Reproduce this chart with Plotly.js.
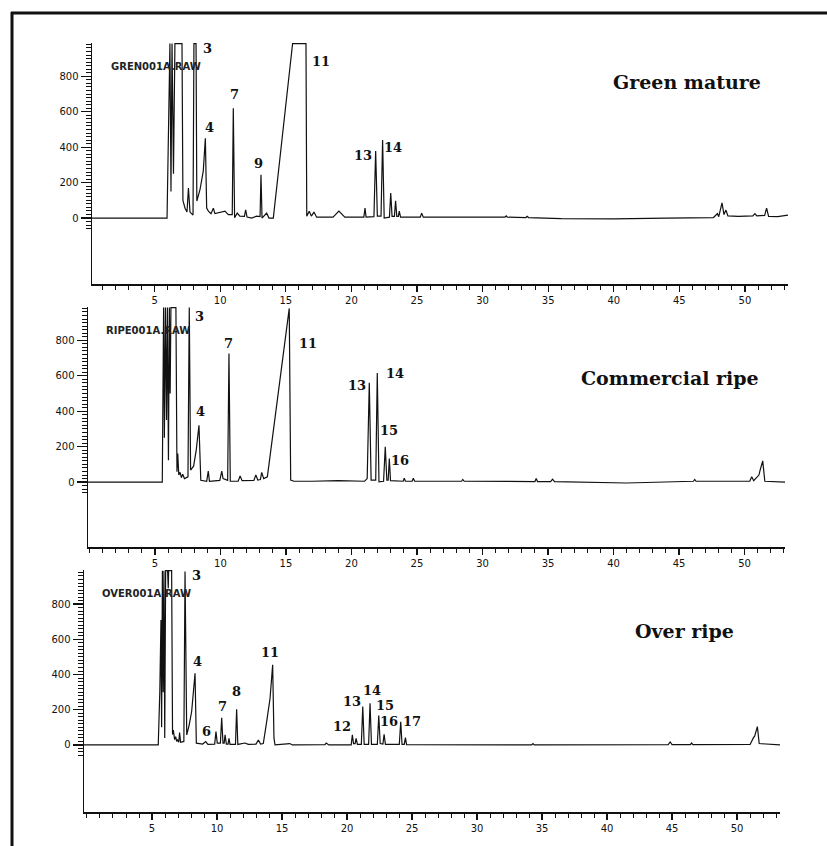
<!DOCTYPE html>
<html>
<head>
<meta charset="utf-8">
<script src="https://cdn.plot.ly/plotly-3.0.1.min.js"></script>
<style>html,body{margin:0;padding:0;background:#fff;}#chart{width:827px;height:846px;}</style>
</head>
<body>
<div id="chart"></div>
<script>
// ---------- DATA (retention time in min, detector response) ----------
const xTickVals = [5, 10, 15, 20, 25, 30, 35, 40, 45, 50];
const xTickText = ["5", "10", "15", "20", "25", "30", "35", "40", "45", "50"];
const yTickVals = [0, 200, 400, 600, 800];
const yTickText = ["0", "200", "400", "600", "800"];

const panelTitles = ["Green mature", "Commercial ripe", "Over ripe"];
const rawFiles = ["GREN001A.RAW", "RIPE001A.RAW", "OVER001A.RAW"];

const greenPts = [[0.23,0],[5.95,0],[6.17,985],[6.25,150],[6.33,985],[6.44,250],[6.55,985],[7.09,985],[7.16,100],[7.32,56],[7.47,34],[7.58,169],[7.70,34],[7.93,17],[8.0,985],[8.16,985],[8.22,96],[8.46,160],[8.71,265],[8.87,450],[8.97,56],[9.1,39],[9.3,25],[9.48,56],[9.6,25],[9.73,28],[10.1,34],[10.37,39],[10.62,19],[10.92,19],[11.0,620],[11.1,2],[11.3,28],[11.5,11],[11.85,10],[11.94,47],[12.05,6],[12.4,0],[12.78,11],[13.04,8],[13.11,245],[13.19,0],[13.54,28],[13.72,0],[14.05,0],[15.52,985],[16.54,985],[16.6,11],[16.79,39],[16.95,11],[17.15,34],[17.35,5],[18.6,5],[19.05,39],[19.5,5],[20.95,5],[21.04,56],[21.12,5],[21.72,8],[21.85,379],[21.98,11],[22.26,11],[22.38,441],[22.5,0],[22.9,5],[23.0,141],[23.1,10],[23.28,10],[23.37,98],[23.46,10],[23.58,10],[23.65,39],[23.75,5],[25.25,5],[25.36,28],[25.48,5],[31.7,5],[31.8,12],[31.9,5],[33.3,3],[33.4,10],[33.5,3],[36,-3],[40,-5],[44,0],[47.6,3],[47.9,25],[48.0,8],[48.25,86],[48.4,20],[48.55,45],[48.7,12],[49.5,10],[50.6,12],[50.76,25],[50.9,12],[51.5,15],[51.65,56],[51.8,10],[52.5,8],[53.28,17]];

const ripePts = [[-0.11,0],[5.56,0],[5.66,985],[5.72,250],[5.80,985],[5.88,350],[5.95,985],[6.03,124],[6.10,985],[6.16,500],[6.22,985],[6.60,985],[6.68,58],[6.74,161],[6.82,40],[6.92,55],[7.02,25],[7.12,45],[7.25,20],[7.52,30],[7.62,985],[7.72,68],[7.95,90],[8.15,180],[8.36,321],[8.5,10],[8.95,5],[9.07,62],[9.16,5],[9.95,10],[10.1,62],[10.2,20],[10.55,10],[10.65,725],[10.75,5],[11.35,5],[11.5,35],[11.65,8],[12.55,10],[12.7,40],[12.85,12],[13.05,15],[13.15,55],[13.3,20],[13.58,30],[15.25,980],[15.36,11],[15.6,5],[17,5],[19,8],[21.0,5],[21.2,20],[21.36,560],[21.5,11],[21.85,11],[21.97,616],[22.1,2],[22.45,5],[22.58,199],[22.7,11],[22.8,11],[22.89,133],[22.98,8],[23.5,5],[23.95,5],[24.03,22],[24.12,5],[24.63,5],[24.72,22],[24.82,5],[28.4,5],[28.5,15],[28.6,5],[34.0,3],[34.1,20],[34.2,3],[35.2,3],[35.35,17],[35.5,3],[41,-5],[46.1,5],[46.2,15],[46.3,5],[50.4,5],[50.55,30],[50.7,8],[51.1,40],[51.2,70],[51.39,120],[51.55,5],[53.09,0]];

const overPts = [[-0.23,0],[5.48,0],[5.60,300],[5.69,710],[5.74,100],[5.80,990],[5.86,300],[5.92,990],[5.98,40],[6.05,990],[6.20,990],[6.25,890],[6.28,990],[6.51,990],[6.58,60],[6.64,85],[6.74,30],[6.82,47],[6.9,20],[6.97,28],[7.06,15],[7.12,70],[7.2,15],[7.45,20],[7.54,985],[7.67,57],[7.85,110],[8.05,190],[8.31,407],[8.41,10],[8.9,5],[9.13,19],[9.3,3],[9.82,5],[9.92,76],[10.02,10],[10.26,10],[10.36,155],[10.46,10],[10.55,10],[10.62,57],[10.72,5],[10.85,5],[10.92,38],[11.0,3],[11.42,3],[11.51,203],[11.6,3],[12.15,11],[12.4,3],[13.0,5],[13.18,28],[13.35,5],[13.56,8],[13.82,132],[14.08,265],[14.28,455],[14.38,40],[14.46,0],[15.6,8],[15.8,0],[18.3,2],[18.4,11],[18.6,0],[20.32,0],[20.41,57],[20.5,8],[20.62,8],[20.7,38],[20.8,3],[21.1,3],[21.21,218],[21.32,3],[21.66,3],[21.77,237],[21.88,3],[22.33,3],[22.44,167],[22.55,8],[22.76,5],[22.85,61],[22.95,3],[24.02,3],[24.13,132],[24.23,3],[24.4,3],[24.49,42],[24.58,2],[34.2,0],[34.3,8],[34.4,0],[44.7,2],[44.85,17],[45.0,2],[46.4,2],[46.5,11],[46.6,2],[51.0,3],[51.25,40],[51.35,50],[51.56,104],[51.7,8],[53.3,0]];

// peak number labels: [text, time, response]
const greenPeaks = [["3",9.07,958],["4",9.15,513],["7",11.1,699],["9",12.9,310],["11",17.7,885],["13",20.9,355],["14",23.2,400]];
const ripePeaks = [["3",8.4,935],["4",8.5,400],["7",10.6,783],["11",16.7,783],["13",20.4,546],["14",23.3,614],["15",22.9,293],["16",23.7,124]];
const overPeaks = [["3",8.46,960],["4",8.5,472],["6",9.2,74],["7",10.4,216],["8",11.5,301],["11",14.1,523],["12",19.6,102],["13",20.4,246],["14",21.9,312],["15",22.9,222],["16",23.2,132],["17",24.97,132]];

// ---------- LAYOUT HELPERS ----------
const W = 827, H = 846;
const px = v => v / W;
const py = v => 1 - v / H;

const panels = [
  {pts: greenPts, peaks: greenPeaks, xd: [92, 788], xr: [0.23, 53.28], yd: [43, 284], yr: [-372, 988], title: [687, 82], raw: [109, 66]},
  {pts: ripePts, peaks: ripePeaks, xd: [88, 785], xr: [-0.11, 53.09], yd: [307, 547], yr: [-366, 988], title: [670, 378], raw: [104, 330]},
  {pts: overPts, peaks: overPeaks, xd: [84, 780], xr: [-0.23, 53.3], yd: [570, 812], yr: [-381, 994], title: [684, 631], raw: [100, 593]}
];

const minorY = [];
for (let v = -60; v <= 980; v += 20) minorY.push(v);

const tickFont = {family: "DejaVu Sans, Arial, sans-serif", size: 10, color: "#111"};
const ink = "#111";

const traces = [];
const layout = {
  width: W, height: H,
  margin: {l: 0, r: 0, t: 0, b: 0},
  paper_bgcolor: "#fff", plot_bgcolor: "#fff",
  showlegend: false,
  annotations: [],
  shapes: [
    {type: "line", xref: "paper", yref: "paper", x0: px(11), x1: 1, y0: py(13), y1: py(13), line: {color: ink, width: 3}},
    {type: "line", xref: "paper", yref: "paper", x0: px(12), x1: px(12), y0: py(12), y1: 0, line: {color: ink, width: 3}}
  ]
};

panels.forEach((p, i) => {
  const n = i === 0 ? "" : String(i + 1);
  traces.push({
    type: "scatter", mode: "lines",
    x: p.pts.map(d => d[0]), y: p.pts.map(d => d[1]),
    xaxis: "x" + n, yaxis: "y" + n,
    line: {color: ink, width: 1.2},
    hoverinfo: "skip"
  });
  layout["xaxis" + n] = {
    domain: [px(p.xd[0]), px(p.xd[1])], range: p.xr, anchor: "y" + n,
    showline: true, linecolor: ink, linewidth: 1.5,
    showgrid: false, zeroline: false,
    ticks: "outside", ticklen: 6, tickwidth: 1.3, tickcolor: ink,
    tickmode: "array", tickvals: xTickVals, ticktext: xTickText,
    minor: {ticks: "outside", dtick: 1, tick0: 0, ticklen: 4, tickwidth: 1, tickcolor: ink},
    tickfont: tickFont, fixedrange: true
  };
  layout["yaxis" + n] = {
    domain: [py(p.yd[1]), py(p.yd[0])], range: p.yr, anchor: "x" + n,
    showline: true, linecolor: ink, linewidth: 1.5,
    showgrid: false, zeroline: false,
    ticks: "outside", ticklen: 10, tickwidth: 1.3, tickcolor: ink,
    tickmode: "array", tickvals: yTickVals, ticktext: yTickText,
    minor: {ticks: "outside", tickmode: "array", tickvals: minorY, ticklen: 5, tickwidth: 1, tickcolor: ink},
    tickfont: tickFont, fixedrange: true
  };
  // panel title
  layout.annotations.push({
    xref: "paper", yref: "paper", x: px(p.title[0]), y: py(p.title[1]),
    xanchor: "center", yanchor: "middle", showarrow: false,
    text: "<b>" + panelTitles[i] + "</b>",
    font: {family: "DejaVu Serif, Liberation Serif, serif", size: 19, color: ink}
  });
  // raw file label
  layout.annotations.push({
    xref: "paper", yref: "paper", x: px(p.raw[0]), y: py(p.raw[1]),
    xanchor: "left", yanchor: "middle", showarrow: false,
    text: "<b>" + rawFiles[i] + "</b>",
    font: {family: "DejaVu Sans, Arial, sans-serif", size: 10, color: "#222"}
  });
  // peak numbers
  p.peaks.forEach(k => {
    layout.annotations.push({
      xref: "x" + n, yref: "y" + n, x: k[1], y: k[2],
      xanchor: "center", yanchor: "middle", showarrow: false,
      text: "<b>" + k[0] + "</b>",
      font: {family: "DejaVu Serif, Liberation Serif, serif", size: 13, color: ink}
    });
  });
});

Plotly.newPlot("chart", traces, layout, {staticPlot: true, displayModeBar: false});
</script>
</body>
</html>
